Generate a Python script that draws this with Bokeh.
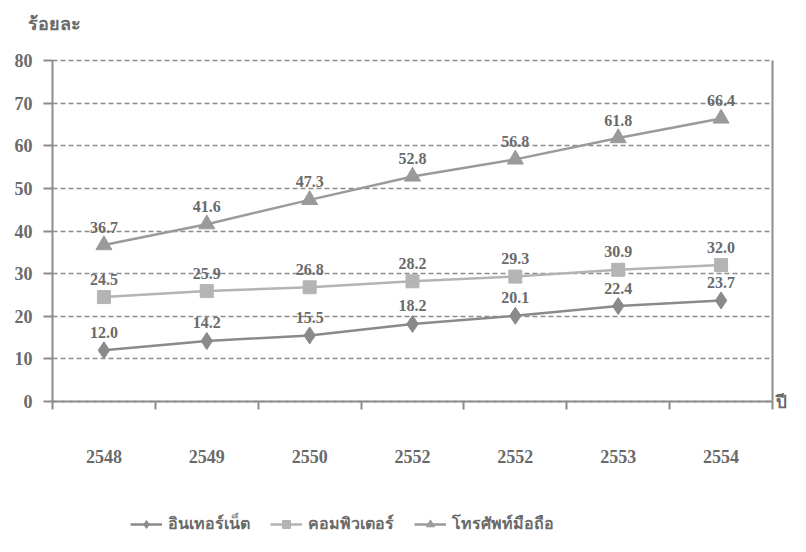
from bokeh.plotting import figure
from bokeh.models import (ColumnDataSource, FixedTicker, Legend, LegendItem, LinearAxis,
                          Label, Range1d, Grid)
from bokeh.core.properties import value
from bokeh.embed import file_html
from bokeh.resources import INLINE

years = ["2548", "2549", "2550", "2552", "2552", "2553", "2554"]
internet = [12.0, 14.2, 15.5, 18.2, 20.1, 22.4, 23.7]
computer = [24.5, 25.9, 26.8, 28.2, 29.3, 30.9, 32.0]
mobile = [36.7, 41.6, 47.3, 52.8, 56.8, 61.8, 66.4]
series_names = ["อินเทอร์เน็ต", "คอมพิวเตอร์", "โทรศัพท์มือถือ"]
y_ticks = [0, 10, 20, 30, 40, 50, 60, 70, 80]
y_title = "ร้อยละ"
x_title = "ปี"

ncat = len(years)
ymax = y_ticks[-1]
xpos = [i + 0.5 for i in range(ncat)]

# layout (pixels): canvas size and where the data box sits in it
W, H = 790, 536
L, R, T, B = 52, 772, 60, 401
ppx = (R - L) / ncat
ppy = (B - T) / ymax

NUM_FONT = "Liberation Serif"
THAI_FONT = "Noto Sans"
AXC = "#8c8c8c"
TXC = "#6a6a6a"

p = figure(width=W, height=H, output_backend="svg", toolbar_location=None,
           x_range=Range1d(-L / ppx, ncat + (W - R) / ppx),
           y_range=Range1d(-(H - B) / ppy, ymax + T / ppy),
           min_border=0)
p.outline_line_color = None
p.background_fill_color = "white"

# y axis (drawn at x = 0)
p.yaxis.fixed_location = 0
p.yaxis.bounds = (0, ymax)
p.yaxis.ticker = FixedTicker(ticks=y_ticks)
p.yaxis.axis_line_color = AXC
p.yaxis.axis_line_width = 2
p.yaxis.major_tick_line_color = AXC
p.yaxis.major_tick_line_width = 2
p.yaxis.major_tick_out = 9
p.yaxis.major_tick_in = 0
p.yaxis.minor_tick_line_color = None
p.yaxis.major_label_text_font = NUM_FONT
p.yaxis.major_label_text_font_style = "bold"
p.yaxis.major_label_text_font_size = "18px"
p.yaxis.major_label_text_color = TXC
p.yaxis.major_label_standoff = 11

# x axis (drawn at y = 0)
p.xaxis.fixed_location = 0
p.xaxis.bounds = (0, ncat)
p.xaxis.ticker = FixedTicker(ticks=xpos, minor_ticks=list(range(ncat + 1)))
p.xaxis.major_label_overrides = {x: y for x, y in zip(xpos, years)}
p.xaxis.axis_line_color = AXC
p.xaxis.axis_line_width = 2
p.xaxis.major_tick_line_color = None
p.xaxis.minor_tick_line_color = AXC
p.xaxis.minor_tick_line_width = 2
p.xaxis.minor_tick_out = 8
p.xaxis.minor_tick_in = 0
p.xaxis.major_label_text_font = NUM_FONT
p.xaxis.major_label_text_font_style = "bold"
p.xaxis.major_label_text_font_size = "18px"
p.xaxis.major_label_text_color = TXC
p.xaxis.major_label_standoff = 40

# right side: "ปี" label next to the end of the x axis
rax = LinearAxis(fixed_location=ncat, bounds=(0, ymax), ticker=FixedTicker(ticks=[0]),
                 major_label_overrides={0: x_title})
rax.axis_line_color = None
rax.major_tick_line_color = None
rax.major_tick_out = 0
rax.major_tick_in = 0
rax.minor_tick_line_color = None
rax.major_label_standoff = 3
rax.major_label_text_font = THAI_FONT
rax.major_label_text_font_size = "17px"
rax.major_label_text_font_style = "bold"
rax.major_label_text_color = TXC
p.add_layout(rax, "right")

# right border of the plot box
p.segment(x0=[ncat], x1=[ncat], y0=[0], y1=[ymax], line_color=AXC, line_width=2)

# grid
p.xgrid.grid_line_color = None
p.ygrid.ticker = FixedTicker(ticks=y_ticks)
p.ygrid.bounds = (0, ymax)
p.ygrid.grid_line_color = AXC
p.ygrid.grid_line_width = 1.5
p.ygrid.grid_line_dash = "5 3"
if "cross_bounds" in Grid.properties():
    p.ygrid.cross_bounds = (0, ncat)
else:
    p.ygrid.grid_line_color = None
    p.segment(x0=[0] * len(y_ticks), x1=[ncat] * len(y_ticks), y0=y_ticks, y1=y_ticks,
              line_color=AXC, line_width=1.5, line_dash="5 3", level="underlay")

colors = ["#8a8a8a", "#b4b4b4", "#9a9a9a"]
markers = ["diamond", "square", "triangle"]
sizes = [17, 13, 16]
data = [internet, computer, mobile]

items = []
for name, vals, col, mk, sz in zip(series_names, data, colors, markers, sizes):
    src = ColumnDataSource(dict(x=xpos, y=vals, lab=[f"{v:.1f}" for v in vals]))
    lr = p.line("x", "y", source=src, line_color=col, line_width=2.5)
    sr = p.scatter("x", "y", source=src, marker=mk, size=sz, fill_color=col, line_color=col)
    p.text("x", "y", text="lab", source=src, y_offset=-18, text_align="center",
           text_baseline="middle", text_font=value(NUM_FONT), text_font_style="bold",
           text_font_size="16px", text_color=TXC)
    items.append(LegendItem(label=name, renderers=[lr, sr]))

lg = Legend(items=items, location=(130, 0), orientation="horizontal", padding=0, margin=0,
            border_line_color=None, background_fill_alpha=0, glyph_width=32, glyph_height=20,
            label_standoff=6, spacing=20, label_text_font=THAI_FONT, label_text_font_size="16px",
            label_text_font_style="bold", label_text_color=TXC)
p.add_layout(lg)

p.add_layout(Label(x=0, y=ymax, x_offset=-25, y_offset=38, text=y_title,
                   text_font=THAI_FONT, text_font_size="18px", text_font_style="bold",
                   text_color=TXC, text_baseline="middle", text_align="left"))

open("out.html", "w").write(file_html(p, INLINE))
